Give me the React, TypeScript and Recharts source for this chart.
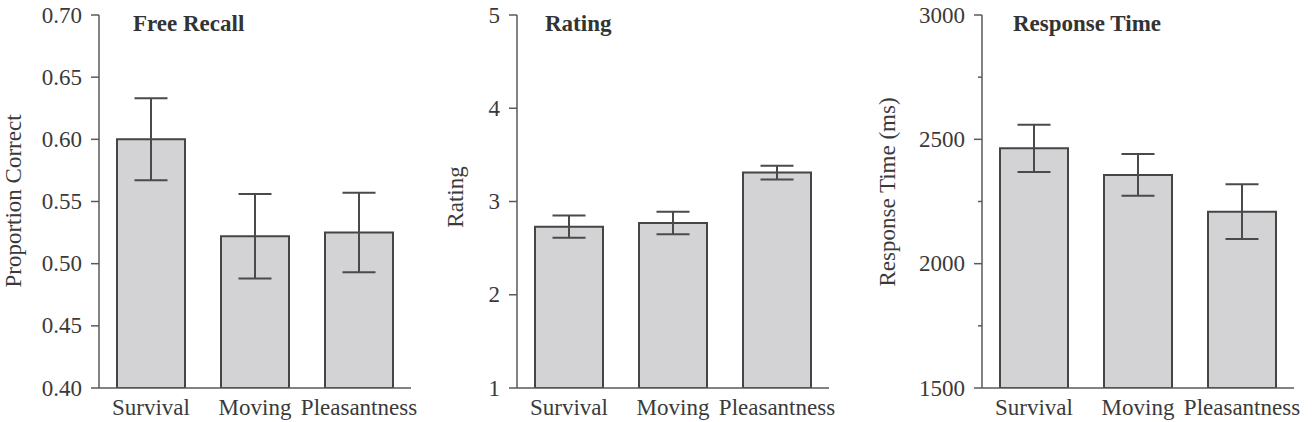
import { BarChart, Bar, XAxis, YAxis, ErrorBar } from 'recharts';

const categories = ['Survival', 'Moving', 'Pleasantness'];

const recallMeans = [0.6, 0.522, 0.525];
const recallErrors = [0.033, 0.034, 0.032];
const recallTicks = [0.4, 0.45, 0.5, 0.55, 0.6, 0.65, 0.7];

const ratingMeans = [2.73, 2.77, 3.31];
const ratingErrors = [0.12, 0.12, 0.073];
const ratingTicks = [1, 2, 3, 4, 5];

const rtMeans = [2464, 2357, 2209];
const rtErrors = [95, 84, 110];
const rtTicks = [1500, 1750, 2000, 2250, 2500, 2750, 3000];

const FONT = '"Liberation Serif", "Times New Roman", serif';
const FS = 23;
const TEXT = '#3a3a3a';
const AXIS = '#5a5a5a';
const PLOT_TOP = 15;
const PLOT_H = 373;
const PLOT_W = 312;

const buildRows = (means, errors) =>
  categories.map((name, i) => ({ name, value: means[i], err: errors[i] }));

function YTick({ y, payload, axisX, format, isMajor }) {
  const major = isMajor(payload.value);
  return (
    <g>
      <line x1={axisX - (major ? 8 : 4)} x2={axisX} y1={y} y2={y} stroke={AXIS} strokeWidth={1.5} />
      {major && (
        <text x={axisX - 17} y={y} textAnchor="end" dominantBaseline="central" fontFamily={FONT} fontSize={FS} fill={TEXT}>
          {format(payload.value)}
        </text>
      )}
    </g>
  );
}

function XTick({ x, payload }) {
  return (
    <text x={x} y={415} textAnchor="middle" fontFamily={FONT} fontSize={FS} fill={TEXT}>
      {payload.value}
    </text>
  );
}

function Panel({ left, width, axisW, title, titleX, yLabel, labelX, labelY, rows, domain, ticks, format, isMajor }) {
  return (
    <div style={{ position: 'absolute', left, top: 0, width, height: 422 }}>
      <BarChart
        width={width}
        height={422}
        data={rows}
        margin={{ top: PLOT_TOP, right: width - axisW - PLOT_W, bottom: 0, left: 0 }}
        barCategoryGap={36}
      >
        <XAxis
          dataKey="name"
          axisLine={{ stroke: AXIS, strokeWidth: 1.5 }}
          tickLine={false}
          height={422 - PLOT_TOP - PLOT_H}
          tick={(p) => <XTick {...p} />}
          interval={0}
        />
        <YAxis
          width={axisW}
          domain={domain}
          ticks={ticks}
          type="number"
          allowDataOverflow
          axisLine={{ stroke: AXIS, strokeWidth: 1.5 }}
          tickLine={false}
          tick={(p) => <YTick {...p} axisX={axisW} format={format} isMajor={isMajor} />}
          label={{
            content: () => (
              <text
                x={labelX}
                y={labelY}
                transform={`rotate(-90 ${labelX} ${labelY})`}
                textAnchor="middle"
                dominantBaseline="central"
                fontFamily={FONT}
                fontSize={FS}
                fill={TEXT}
              >
                {yLabel}
              </text>
            ),
          }}
        />
        <Bar dataKey="value" fill="#d3d3d5" stroke="#454545" strokeWidth={2} barSize={68} isAnimationActive={false}>
          <ErrorBar dataKey="err" width={16.5} stroke="#4a4a4a" strokeWidth={2} isAnimationActive={false} />
        </Bar>
      </BarChart>
      <div
        style={{
          position: 'absolute',
          left: titleX - left,
          top: 12,
          fontFamily: FONT,
          fontWeight: 'bold',
          fontSize: FS,
          lineHeight: `${FS}px`,
          color: '#333',
          whiteSpace: 'nowrap',
        }}
      >
        {title}
      </div>
    </div>
  );
}

export default function App() {
  return (
    <div style={{ position: 'absolute', left: 0, top: 0, width: 1312, height: 422, background: '#fff', overflow: 'hidden' }}>
      <Panel
        left={0}
        width={440}
        axisW={99}
        title="Free Recall"
        titleX={133}
        yLabel="Proportion Correct"
        labelX={13}
        labelY={201}
        rows={buildRows(recallMeans, recallErrors)}
        domain={[0.4, 0.7]}
        ticks={recallTicks}
        format={(v) => v.toFixed(2)}
        isMajor={() => true}
      />
      <Panel
        left={440}
        width={440}
        axisW={77}
        title="Rating"
        titleX={545}
        yLabel="Rating"
        labelX={15}
        labelY={197}
        rows={buildRows(ratingMeans, ratingErrors)}
        domain={[1, 5]}
        ticks={ratingTicks}
        format={(v) => String(v)}
        isMajor={() => true}
      />
      <Panel
        left={870}
        width={442}
        axisW={112}
        title="Response Time"
        titleX={1013}
        yLabel="Response Time (ms)"
        labelX={17}
        labelY={192}
        rows={buildRows(rtMeans, rtErrors)}
        domain={[1500, 3000]}
        ticks={rtTicks}
        format={(v) => String(v)}
        isMajor={(v) => v % 500 === 0}
      />
    </div>
  );
}
